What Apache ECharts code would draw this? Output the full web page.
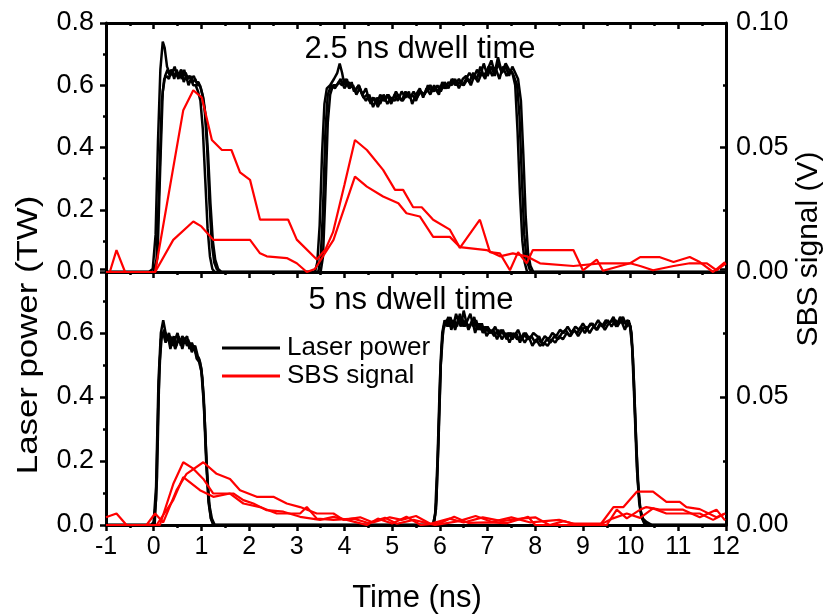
<!DOCTYPE html>
<html>
<head>
<meta charset="utf-8">
<script src="https://cdn.jsdelivr.net/npm/echarts@6/dist/echarts.min.js"></script>
<style>html,body{margin:0;padding:0;background:#fff;}#c{width:833px;height:616px;}</style>
</head>
<body>
<div id="c"></div>
<script>
// ---- data (time in ns, laser power in TW, SBS signal in V) ----
var xTicks = [-1,0,1,2,3,4,5,6,7,8,9,10,11,12];
var panelTitles = ['2.5 ns dwell time', '5 ns dwell time'];
var seriesNames = ['Laser power', 'SBS signal'];

// Top panel (2.5 ns dwell time) laser power traces
var topLaser1 = [[-1,0],[-0.1,0],[-0.02,0.01],[0.04,0.12],[0.09,0.42],[0.14,0.65],[0.19,0.74],[0.23,0.72],[0.28,0.66],[0.33,0.64],[0.38,0.65],[0.43,0.62],[0.48,0.65],[0.53,0.63],[0.58,0.65],[0.63,0.61],[0.68,0.63],[0.73,0.6],[0.78,0.62],[0.83,0.6],[0.88,0.6],[0.93,0.58],[0.98,0.55],[1.03,0.46],[1.08,0.3],[1.13,0.14],[1.18,0.05],[1.23,0.01],[1.28,0],
  [3.38,0],[3.43,0.03],[3.48,0.15],[3.53,0.38],[3.58,0.54],[3.63,0.59],[3.7,0.6],[3.78,0.62],[3.85,0.64],[3.9,0.67],[3.95,0.64],[4.0,0.6],[4.05,0.62],[4.1,0.59],[4.15,0.61],[4.2,0.58],[4.3,0.6],[4.38,0.57],[4.45,0.59],[4.52,0.55],[4.6,0.56],[4.68,0.54],[4.75,0.57],[4.82,0.55],[4.9,0.57],[4.98,0.54],[5.05,0.57],[5.12,0.55],[5.2,0.58],[5.28,0.56],[5.35,0.58],[5.42,0.54],[5.5,0.57],[5.58,0.59],[5.65,0.56],[5.72,0.59],[5.8,0.57],[5.88,0.6],[5.95,0.58],[6.02,0.6],[6.1,0.59],[6.18,0.61],[6.25,0.6],[6.32,0.62],[6.4,0.59],[6.48,0.62],[6.55,0.63],[6.62,0.61],[6.7,0.64],[6.78,0.62],[6.85,0.66],[6.92,0.63],[7.0,0.65],[7.08,0.68],[7.15,0.64],[7.22,0.69],[7.3,0.64],[7.38,0.67],[7.45,0.65],[7.52,0.64],[7.58,0.6],[7.63,0.45],[7.68,0.25],[7.73,0.1],[7.78,0.03],[7.83,0],[12,0]];
var topLaser2 = [[-1,0],[0.0,0],[0.06,0.04],[0.12,0.3],[0.17,0.55],[0.22,0.62],[0.27,0.63],[0.32,0.62],[0.37,0.65],[0.42,0.63],[0.47,0.64],[0.52,0.62],[0.57,0.65],[0.62,0.63],[0.67,0.64],[0.72,0.62],[0.77,0.63],[0.82,0.61],[0.87,0.62],[0.92,0.6],[0.97,0.6],[1.02,0.57],[1.07,0.52],[1.12,0.4],[1.17,0.22],[1.22,0.09],[1.27,0.03],[1.32,0.01],[1.38,0],
  [3.45,0],[3.5,0.04],[3.55,0.2],[3.6,0.45],[3.65,0.57],[3.72,0.6],[3.8,0.59],[3.88,0.61],[3.95,0.6],[4.02,0.62],[4.1,0.59],[4.18,0.6],[4.25,0.57],[4.32,0.59],[4.4,0.56],[4.48,0.57],[4.55,0.54],[4.62,0.56],[4.7,0.53],[4.78,0.56],[4.85,0.55],[4.92,0.57],[5.0,0.55],[5.08,0.58],[5.15,0.56],[5.22,0.55],[5.3,0.57],[5.38,0.56],[5.45,0.58],[5.52,0.56],[5.6,0.58],[5.68,0.57],[5.75,0.6],[5.82,0.58],[5.9,0.59],[5.98,0.57],[6.05,0.61],[6.12,0.59],[6.2,0.6],[6.28,0.62],[6.35,0.6],[6.42,0.61],[6.5,0.6],[6.58,0.62],[6.65,0.6],[6.72,0.63],[6.8,0.61],[6.88,0.64],[6.95,0.62],[7.02,0.66],[7.1,0.63],[7.18,0.65],[7.25,0.62],[7.32,0.66],[7.4,0.63],[7.48,0.65],[7.55,0.63],[7.62,0.6],[7.67,0.5],[7.72,0.3],[7.77,0.12],[7.82,0.04],[7.88,0.01],[7.93,0],[12,0]];
var topLaser3 = [[-1,0],[0.02,0],[0.08,0.05],[0.14,0.35],[0.19,0.58],[0.24,0.63],[0.29,0.65],[0.34,0.63],[0.39,0.64],[0.44,0.66],[0.49,0.63],[0.54,0.64],[0.59,0.62],[0.64,0.65],[0.69,0.62],[0.74,0.63],[0.79,0.62],[0.84,0.63],[0.89,0.61],[0.94,0.61],[0.99,0.59],[1.04,0.56],[1.09,0.5],[1.14,0.38],[1.19,0.22],[1.24,0.1],[1.29,0.04],[1.35,0.01],[1.42,0],
  [3.5,0],[3.55,0.05],[3.6,0.25],[3.65,0.48],[3.7,0.57],[3.76,0.6],[3.84,0.6],[3.92,0.62],[4.0,0.59],[4.08,0.61],[4.15,0.6],[4.22,0.58],[4.3,0.6],[4.37,0.57],[4.45,0.55],[4.52,0.57],[4.6,0.53],[4.68,0.56],[4.75,0.54],[4.82,0.57],[4.9,0.54],[4.98,0.56],[5.05,0.55],[5.12,0.57],[5.2,0.55],[5.28,0.58],[5.35,0.56],[5.42,0.57],[5.5,0.55],[5.57,0.58],[5.65,0.57],[5.72,0.58],[5.8,0.6],[5.88,0.58],[5.95,0.6],[6.02,0.58],[6.1,0.61],[6.18,0.59],[6.25,0.62],[6.32,0.6],[6.4,0.62],[6.48,0.6],[6.55,0.62],[6.62,0.64],[6.7,0.62],[6.78,0.65],[6.85,0.63],[6.92,0.67],[7.0,0.63],[7.08,0.66],[7.15,0.63],[7.22,0.67],[7.3,0.64],[7.38,0.66],[7.45,0.63],[7.52,0.66],[7.58,0.64],[7.64,0.62],[7.7,0.55],[7.75,0.38],[7.8,0.18],[7.85,0.06],[7.9,0.02],[7.96,0],[12,0]];

// Top panel SBS signal traces (V)
var topSBS1 = [[-1,0],[-0.92,0],[-0.78,0.0088],[-0.6,0],[0.03,0],[0.62,0.065],[0.83,0.073],[1.01,0.07],[1.22,0.053],[1.43,0.049],[1.63,0.049],[1.81,0.04],[2.02,0.037],[2.23,0.021],[2.82,0.021],[3.0,0.013],[3.42,0.005],[3.6,0.009],[3.76,0.016],[4.0,0.035],[4.22,0.053],[4.47,0.049],[4.81,0.041],[5.06,0.033],[5.23,0.033],[5.44,0.026],[5.62,0.026],[5.86,0.021],[6.21,0.017],[6.42,0.0097],[6.84,0.021],[7.05,0.008],[7.26,0.0075],[7.47,0.0007],[7.64,0.008],[7.82,0.0035],[7.95,0.0088],[8.8,0.0088],[9.0,0.0007],[9.29,0.005],[9.42,0.0005],[9.99,0.0035],[10.2,0.006],[10.6,0.006],[10.9,0.004],[11.24,0.006],[11.45,0.004],[11.73,0],[11.98,0.004]];
var topSBS2 = [[-1,0],[0.03,0],[0.41,0.0129],[0.83,0.0203],[1.0,0.0183],[1.25,0.0129],[2.02,0.0129],[2.23,0.0075],[2.37,0.0063],[2.79,0.0056],[3.0,0.0035],[3.21,0],[3.38,0.0012],[3.77,0.0129],[4.22,0.0383],[4.47,0.0343],[4.81,0.0303],[5.13,0.0276],[5.3,0.0236],[5.58,0.0223],[5.86,0.0141],[6.21,0.0141],[6.42,0.01],[6.98,0.0088],[7.26,0.0063],[7.53,0.0075],[7.82,0.0063],[8.1,0.0035],[8.8,0.0024],[9.36,0.0035],[9.99,0.0035],[10.2,0.0024],[10.47,0.0007],[10.9,0.0024],[11.24,0.0035],[11.6,0.0035],[11.8,0.0007],[12,0.0035]];

// Bottom panel (5 ns dwell time) laser power traces
var botLaser1 = [[-1,0],[-0.05,0],[0.0,0.01],[0.05,0.12],[0.1,0.45],[0.15,0.6],[0.2,0.64],[0.25,0.6],[0.3,0.58],[0.35,0.59],[0.4,0.56],[0.45,0.58],[0.5,0.6],[0.55,0.57],[0.6,0.59],[0.65,0.58],[0.7,0.59],[0.75,0.55],[0.8,0.57],[0.85,0.55],[0.9,0.53],[0.95,0.52],[1.0,0.49],[1.05,0.4],[1.1,0.22],[1.15,0.08],[1.2,0.02],[1.25,0],
  [5.85,0],[5.9,0.03],[5.95,0.2],[6.0,0.45],[6.05,0.6],[6.1,0.64],[6.16,0.62],[6.22,0.65],[6.28,0.62],[6.34,0.66],[6.4,0.63],[6.46,0.65],[6.52,0.62],[6.58,0.64],[6.64,0.66],[6.7,0.62],[6.76,0.64],[6.82,0.61],[6.88,0.63],[6.94,0.6],[7.0,0.62],[7.08,0.6],[7.16,0.62],[7.24,0.59],[7.32,0.61],[7.4,0.58],[7.48,0.6],[7.56,0.59],[7.64,0.61],[7.72,0.58],[7.8,0.6],[7.88,0.58],[7.96,0.6],[8.04,0.59],[8.12,0.57],[8.2,0.59],[8.28,0.58],[8.36,0.6],[8.44,0.59],[8.52,0.61],[8.6,0.6],[8.68,0.62],[8.76,0.6],[8.84,0.62],[8.92,0.61],[9.0,0.63],[9.08,0.61],[9.16,0.63],[9.24,0.62],[9.32,0.64],[9.4,0.62],[9.48,0.64],[9.56,0.63],[9.64,0.65],[9.72,0.62],[9.8,0.64],[9.88,0.61],[9.96,0.64],[10.02,0.6],[10.07,0.45],[10.12,0.25],[10.17,0.1],[10.22,0.03],[10.28,0.01],[10.35,0],[12,0]];
var botLaser2 = [[-1,0],[0.0,0],[0.05,0.08],[0.1,0.4],[0.15,0.58],[0.2,0.6],[0.25,0.57],[0.3,0.59],[0.35,0.55],[0.4,0.58],[0.45,0.55],[0.5,0.57],[0.55,0.58],[0.6,0.55],[0.65,0.58],[0.7,0.56],[0.75,0.57],[0.8,0.54],[0.85,0.56],[0.9,0.52],[0.95,0.51],[1.0,0.48],[1.05,0.38],[1.1,0.2],[1.15,0.07],[1.2,0.02],[1.26,0],
  [5.86,0],[5.92,0.05],[5.97,0.25],[6.02,0.5],[6.07,0.61],[6.12,0.63],[6.18,0.65],[6.24,0.61],[6.3,0.64],[6.36,0.62],[6.42,0.66],[6.48,0.62],[6.54,0.64],[6.6,0.61],[6.66,0.63],[6.72,0.65],[6.78,0.61],[6.84,0.63],[6.9,0.6],[6.96,0.62],[7.04,0.6],[7.12,0.61],[7.2,0.58],[7.28,0.61],[7.36,0.59],[7.44,0.6],[7.52,0.58],[7.6,0.6],[7.68,0.57],[7.76,0.6],[7.84,0.58],[7.92,0.59],[8.0,0.57],[8.08,0.59],[8.16,0.56],[8.24,0.58],[8.32,0.57],[8.4,0.59],[8.48,0.58],[8.56,0.6],[8.64,0.61],[8.72,0.59],[8.8,0.61],[8.88,0.6],[8.96,0.62],[9.04,0.6],[9.12,0.62],[9.2,0.63],[9.28,0.61],[9.36,0.63],[9.44,0.62],[9.52,0.64],[9.6,0.62],[9.68,0.64],[9.76,0.63],[9.84,0.65],[9.92,0.62],[9.98,0.63],[10.03,0.56],[10.08,0.38],[10.13,0.18],[10.18,0.07],[10.24,0.02],[10.3,0],[12,0]];
var botLaser3 = [[-1,0],[0.02,0],[0.07,0.15],[0.12,0.5],[0.17,0.59],[0.22,0.61],[0.27,0.58],[0.32,0.6],[0.37,0.57],[0.42,0.59],[0.47,0.56],[0.52,0.59],[0.57,0.56],[0.62,0.58],[0.67,0.57],[0.72,0.58],[0.77,0.56],[0.82,0.55],[0.87,0.56],[0.92,0.53],[0.97,0.51],[1.02,0.46],[1.07,0.33],[1.12,0.16],[1.17,0.06],[1.22,0.02],[1.28,0],
  [5.88,0],[5.93,0.08],[5.98,0.32],[6.03,0.55],[6.08,0.62],[6.14,0.64],[6.2,0.62],[6.26,0.64],[6.32,0.61],[6.38,0.64],[6.44,0.62],[6.5,0.67],[6.56,0.63],[6.62,0.62],[6.68,0.64],[6.74,0.6],[6.8,0.63],[6.86,0.61],[6.92,0.62],[6.98,0.59],[7.06,0.61],[7.14,0.59],[7.22,0.61],[7.3,0.58],[7.38,0.6],[7.46,0.57],[7.54,0.6],[7.62,0.58],[7.7,0.59],[7.78,0.57],[7.86,0.59],[7.94,0.56],[8.02,0.58],[8.1,0.56],[8.18,0.57],[8.26,0.56],[8.34,0.58],[8.42,0.57],[8.5,0.59],[8.58,0.58],[8.66,0.6],[8.74,0.59],[8.82,0.61],[8.9,0.59],[8.98,0.61],[9.06,0.62],[9.14,0.6],[9.22,0.62],[9.3,0.61],[9.38,0.63],[9.46,0.61],[9.54,0.63],[9.62,0.64],[9.7,0.62],[9.78,0.65],[9.86,0.63],[9.94,0.64],[10.0,0.62],[10.05,0.52],[10.1,0.32],[10.15,0.14],[10.2,0.05],[10.26,0.02],[10.33,0.01],[10.45,0],[12,0]];

// Bottom panel SBS signal traces (V)
var botSBS1 = [[-1,0.003],[-0.78,0.0045],[-0.57,0],[0.13,0],[0.41,0.016],[0.62,0.0245],[0.83,0.022],[1.04,0.018],[1.25,0.0123],[1.67,0.0123],[1.88,0.0097],[2.09,0.0084],[2.37,0.0058],[2.72,0.0052],[3.07,0.0032],[3.49,0.002],[3.77,0.0032],[4.05,0.002],[4.47,0],[4.7,0.0025],[5.0,0.0006],[5.3,0.0032],[5.6,0],[6.0,0.0007],[6.3,0.0032],[6.6,0.0008],[7.0,0.001],[7.4,0.0007],[7.85,0.0032],[8.0,0],[9.36,0],[9.64,0.007],[9.85,0.007],[10.13,0.013],[10.47,0.013],[10.75,0.009],[11.03,0.009],[11.17,0.007],[11.45,0.0062],[11.8,0.003],[11.98,0.0045]];
var botSBS2 = [[-1,0],[-0.15,0],[0.03,0.0045],[0.2,0.001],[0.48,0.0136],[0.69,0.02],[1.04,0.0245],[1.32,0.02],[1.6,0.018],[1.81,0.0136],[2.16,0.011],[2.51,0.011],[2.79,0.0084],[3.07,0.007],[3.42,0.0045],[3.77,0.0045],[3.98,0.002],[4.33,0.003],[4.6,0.001],[4.95,0.003],[5.2,0.002],[5.5,0.0035],[5.8,0.0005],[6.2,0.0025],[6.5,0.001],[6.9,0.003],[7.3,0.0015],[7.7,0.0025],[8.0,0.003],[8.3,0],[8.6,0.0015],[8.9,0],[9.5,0],[9.71,0.006],[9.92,0.0026],[10.2,0.006],[10.33,0.007],[10.61,0.006],[11.1,0.006],[11.45,0.003],[11.8,0.006],[11.98,0.0018]];
var botSBS3 = [[-1,0],[0.06,0],[0.41,0.0097],[0.62,0.0187],[0.97,0.0136],[1.25,0.011],[1.6,0.0123],[1.88,0.0084],[2.23,0.007],[2.58,0.0045],[3.07,0.0045],[3.21,0.007],[3.42,0.0025],[3.77,0.002],[4.19,0.0025],[4.5,0.0008],[4.85,0.0028],[5.1,0.0005],[5.45,0.002],[5.9,0],[6.4,0.0015],[6.75,0.0035],[7.1,0.0012],[7.5,0.003],[7.9,0.001],[8.5,0.002],[8.8,0.0005],[9.4,0.0005],[9.63,0.0026],[9.92,0.0045],[10.2,0.0028],[10.47,0.0065],[10.75,0.0045],[11.17,0.0045],[11.45,0.0045],[11.73,0.002],[11.98,0.0045]];

// ---- chart ----
var FONT = '"Liberation Sans", Arial, sans-serif';
var chart = echarts.init(document.getElementById('c'), null, {renderer: 'canvas'});

function xAx(grid, pos, showLabel, inside) {
  return {
    type: 'value', gridIndex: grid, position: pos, min: xTicks[0], max: xTicks[xTicks.length - 1], interval: 1,
    axisLine: {show: true, onZero: false, lineStyle: {color: '#000', width: 3}},
    axisTick: {show: true, inside: inside, length: 6, lineStyle: {color: '#000', width: 2.5}},
    minorTick: {show: true, splitNumber: 2, length: 3, lineStyle: {color: '#000', width: 2.5}},
    axisLabel: {show: showLabel, color: '#000', fontFamily: FONT, fontSize: 25, margin: 10},
    splitLine: {show: false}, minorSplitLine: {show: false}
  };
}
function yAx(grid, pos, max, interval, digits, showMax, inside) {
  return {
    type: 'value', gridIndex: grid, position: pos, min: 0, max: max, interval: interval,
    axisLine: {show: true, onZero: false, lineStyle: {color: '#000', width: 3}},
    axisTick: {show: true, inside: inside, length: 6, lineStyle: {color: '#000', width: 2.5}},
    minorTick: {show: true, splitNumber: 2, length: 3, lineStyle: {color: '#000', width: 2.5}},
    axisLabel: {show: true, color: '#000', fontFamily: FONT, fontSize: 27, margin: inside ? 10 : 12,
      showMaxLabel: showMax,
      formatter: function (v) { return v.toFixed(digits); }},
    splitLine: {show: false}, minorSplitLine: {show: false}
  };
}
function line(name, data, xi, yi, color, w) {
  return {
    name: name, type: 'line', data: data, xAxisIndex: xi, yAxisIndex: yi,
    symbol: 'none', showSymbol: false, smooth: false, clip: true,
    lineStyle: {color: color, width: w}, itemStyle: {color: color},
    emphasis: {disabled: true}, silent: true
  };
}

var option = {
  animation: false,
  backgroundColor: '#fff',
  grid: [
    {left: 106, right: 107, top: 23, height: 249},
    {left: 106, right: 107, top: 269, height: 256}
  ],
  xAxis: [
    xAx(0, 'bottom', false, false),
    xAx(0, 'top', false, true),
    xAx(1, 'bottom', true, false)
  ],
  yAxis: [
    yAx(0, 'left', 0.8, 0.2, 1, true, false),
    yAx(0, 'right', 0.1, 0.05, 2, true, true),
    yAx(1, 'left', 0.8, 0.2, 1, false, false),
    yAx(1, 'right', 0.1, 0.05, 2, false, true)
  ],
  legend: {
    data: [{name: seriesNames[0], icon: 'rect'}, {name: seriesNames[1], icon: 'rect'}],
    orient: 'vertical', left: 217, top: 329,
    itemWidth: 58, itemHeight: 3, itemGap: 0, selectedMode: false,
    textStyle: {color: '#000', fontFamily: FONT, fontSize: 26, lineHeight: 28, padding: [0, 0, 0, 2]}
  },
  graphic: [
    {type: 'text', x: 420, y: 49, style: {text: panelTitles[0], fill: '#000', font: '31px ' + FONT, align: 'center', verticalAlign: 'middle', textAlign: 'center', textVerticalAlign: 'middle'}},
    {type: 'text', x: 411, y: 300, style: {text: panelTitles[1], fill: '#000', font: '31px ' + FONT, align: 'center', verticalAlign: 'middle', textAlign: 'center', textVerticalAlign: 'middle'}},
    {type: 'text', x: 417, y: 598, style: {text: 'Time (ns)', fill: '#000', font: '31px ' + FONT, align: 'center', verticalAlign: 'middle', textAlign: 'center', textVerticalAlign: 'middle'}},
    {type: 'text', x: 29, y: 335, rotation: Math.PI / 2, scaleX: 1.2, style: {text: 'Laser power (TW)', fill: '#000', font: '29px ' + FONT, align: 'center', verticalAlign: 'middle', textAlign: 'center', textVerticalAlign: 'middle'}},
    {type: 'text', x: 809, y: 249, rotation: Math.PI / 2, style: {text: 'SBS signal (V)', fill: '#000', font: '30px ' + FONT, align: 'center', verticalAlign: 'middle', textAlign: 'center', textVerticalAlign: 'middle'}}
  ],
  series: [
    line(seriesNames[0], topLaser1, 0, 0, '#000', 2.5),
    line(seriesNames[0], topLaser2, 0, 0, '#000', 2.5),
    line(seriesNames[0], topLaser3, 0, 0, '#000', 2.5),
    line(seriesNames[0], botLaser1, 2, 2, '#000', 2.5),
    line(seriesNames[0], botLaser2, 2, 2, '#000', 2.5),
    line(seriesNames[0], botLaser3, 2, 2, '#000', 2.5),
    line(seriesNames[1], topSBS1, 0, 1, '#ff0000', 2.2),
    line(seriesNames[1], topSBS2, 0, 1, '#ff0000', 2.2),
    line(seriesNames[1], botSBS1, 2, 3, '#ff0000', 2.2),
    line(seriesNames[1], botSBS2, 2, 3, '#ff0000', 2.2),
    line(seriesNames[1], botSBS3, 2, 3, '#ff0000', 2.2)
  ]
};
chart.setOption(option);
</script>
</body>
</html>
